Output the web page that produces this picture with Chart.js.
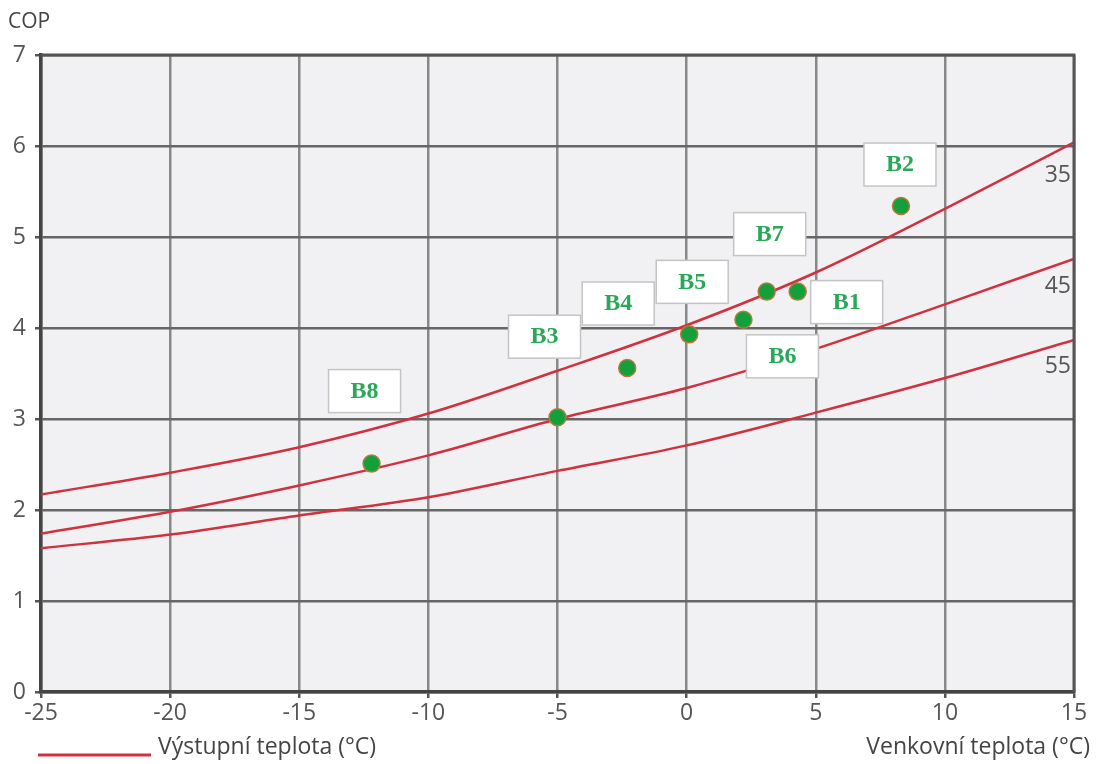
<!DOCTYPE html>
<html>
<head>
<meta charset="utf-8">
<script src="https://cdn.jsdelivr.net/npm/chart.js@4.4.1/dist/chart.umd.min.js"></script>
<style>
  html, body { margin: 0; padding: 0; background: #fff; }
  #wrap { width: 1097px; height: 764px; }
</style>
</head>
<body>
<div id="wrap"><canvas id="copChart" width="1097" height="764"></canvas></div>
<script>
// outdoor temperature samples for the curves
const outdoorTemps = [-25, -20, -15, -10, -5, 0, 5, 10, 15];
// COP curves for flow temperature 35 / 45 / 55 °C
const cop35 = [2.17, 2.41, 2.69, 3.06, 3.53, 4.03, 4.61, 5.31, 6.04];
const cop45 = [1.74, 1.98, 2.27, 2.60, 3.00, 3.34, 3.77, 4.26, 4.76];
const cop55 = [1.58, 1.73, 1.94, 2.14, 2.43, 2.71, 3.07, 3.45, 3.87];
const curveNames = ["35", "45", "55"];
const curveNameY = [5.68, 4.46, 3.58];

// measured points
const pointNames = ["B1", "B2", "B3", "B4", "B5", "B6", "B7", "B8"];
const pointTemps = [4.3, 8.3, -5.0, -2.3, 0.1, 2.2, 3.1, -12.2];
const pointCops = [4.40, 5.34, 3.02, 3.56, 3.93, 4.09, 4.40, 2.51];
// where the label box sits relative to its point (px)
const boxOffsets = [[49, 10], [-1, -42], [-13, -81], [-9, -65], [3, -53], [39, 36], [3, -58], [-7, -73]];

const xTicks = [-25, -20, -15, -10, -5, 0, 5, 10, 15];
const yTicks = [0, 1, 2, 3, 4, 5, 6, 7];

const toXY = (xs, ys) => xs.map((x, i) => ({ x: x, y: ys[i] }));

const lineRed = "#d1313f";

const curveSet = (vals) => ({
  type: "line",
  data: toXY(outdoorTemps, vals),
  borderColor: lineRed,
  borderWidth: 2.5,
  pointRadius: 0,
  fill: false,
  cubicInterpolationMode: "monotone"
});

const framePlugin = {
  id: "frame",
  beforeDraw(chart) {
    const { ctx, chartArea: a } = chart;
    ctx.save();
    ctx.fillStyle = "#fff";
    ctx.fillRect(0, 0, chart.width, chart.height);
    ctx.fillStyle = "#f1f1f3";
    ctx.fillRect(a.left, a.top, a.right - a.left, a.bottom - a.top);
    ctx.restore();
  },
  afterDatasetsDraw(chart) {
    const { ctx, chartArea: a, scales } = chart;
    ctx.save();

    // label boxes for the measured points
    ctx.font = "bold 24px 'Liberation Serif', 'DejaVu Serif', serif";
    ctx.textAlign = "center";
    ctx.textBaseline = "middle";
    pointNames.forEach((name, i) => {
      const px = scales.x.getPixelForValue(pointTemps[i]) + boxOffsets[i][0];
      const py = scales.y.getPixelForValue(pointCops[i]) + boxOffsets[i][1];
      ctx.fillStyle = "#fff";
      ctx.fillRect(px - 36, py - 21, 72, 43);
      ctx.strokeStyle = "#c4c4c4";
      ctx.lineWidth = 1.5;
      ctx.strokeRect(px - 36, py - 21, 72, 43);
      ctx.fillStyle = "#28a858";
      ctx.fillText(name, px, py + 1);
    });

    // redraw the points over the boxes
    pointNames.forEach((name, i) => {
      const px = scales.x.getPixelForValue(pointTemps[i]);
      const py = scales.y.getPixelForValue(pointCops[i]);
      ctx.beginPath();
      ctx.arc(px, py, 8.5, 0, Math.PI * 2);
      ctx.fillStyle = "#13a03a";
      ctx.fill();
      ctx.lineWidth = 1.5;
      ctx.strokeStyle = "#b8783a";
      ctx.stroke();
    });

    // curve names at the right edge
    ctx.font = "23px 'Open Sans', sans-serif";
    ctx.fillStyle = "#555";
    ctx.textAlign = "right";
    curveNames.forEach((n, i) => {
      ctx.fillText(n, a.right - 3, scales.y.getPixelForValue(curveNameY[i]));
    });

    // top and right frame
    ctx.strokeStyle = "#555";
    ctx.lineWidth = 3;
    ctx.beginPath();
    ctx.moveTo(a.left, a.top);
    ctx.lineTo(a.right, a.top);
    ctx.lineTo(a.right, a.bottom);
    ctx.stroke();

    // titles and legend
    ctx.fillStyle = "#444";
    ctx.textAlign = "left";
    ctx.font = "21px 'Open Sans', sans-serif";
    ctx.fillText("COP", 8, 22);
    ctx.font = "23px 'Open Sans', sans-serif";
    ctx.fillText("Výstupní teplota (°C)", 158, 747);
    ctx.textAlign = "right";
    ctx.fillText("Venkovní teplota (°C)", 1090, 747);
    ctx.strokeStyle = lineRed;
    ctx.lineWidth = 3;
    ctx.beginPath();
    ctx.moveTo(38, 755);
    ctx.lineTo(151, 755);
    ctx.stroke();
    ctx.restore();
  }
};

new Chart(document.getElementById("copChart").getContext("2d"), {
  type: "scatter",
  data: {
    datasets: [
      curveSet(cop35),
      curveSet(cop45),
      curveSet(cop55),
      {
        type: "scatter",
        data: toXY(pointTemps, pointCops),
        pointRadius: 0,
        backgroundColor: "#13a03a"
      }
    ]
  },
  options: {
    responsive: false,
    animation: false,
    layout: { padding: { top: 55, right: 23, left: 0, bottom: 0 } },
    plugins: {
      legend: { display: false },
      tooltip: { enabled: false }
    },
    scales: {
      x: {
        type: "linear",
        min: -25,
        max: 15,
        afterBuildTicks: (s) => { s.ticks = xTicks.map(v => ({ value: v })); },
        afterFit: (s) => { s.height = 72; },
        ticks: {
          color: "#555",
          font: { family: "'Open Sans', sans-serif", size: 23 },
          padding: 2,
          maxRotation: 0,
          callback: (v) => String(v)
        },
        grid: {
          color: "#888",
          lineWidth: 2.5,
          tickColor: "#555",
          tickLength: 6
        },
        border: { color: "#444", width: 3.5 }
      },
      y: {
        min: 0,
        max: 7,
        afterBuildTicks: (s) => { s.ticks = yTicks.map(v => ({ value: v })); },
        afterFit: (s) => { s.width = 41; },
        ticks: {
          color: "#555",
          font: { family: "'Open Sans', sans-serif", size: 23 },
          padding: 9,
          callback: (v) => String(v)
        },
        grid: {
          color: "#666",
          lineWidth: 2.5,
          tickColor: "#555",
          tickLength: 6
        },
        border: { color: "#444", width: 3.5 }
      }
    }
  },
  plugins: [framePlugin]
});
</script>
</body>
</html>
